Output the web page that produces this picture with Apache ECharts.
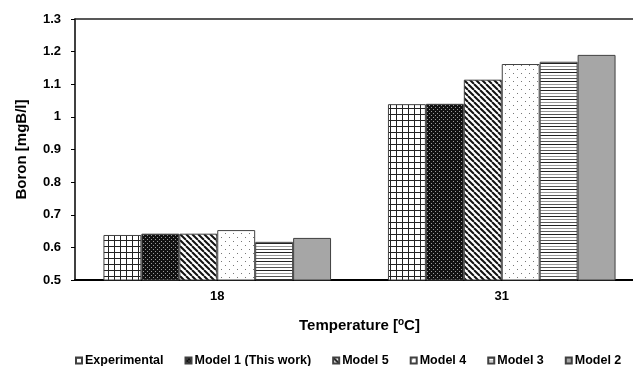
<!DOCTYPE html>
<html>
<head>
<meta charset="utf-8">
<script src="https://cdn.jsdelivr.net/npm/echarts@6/dist/echarts.min.js"></script>
<style>
  html, body { margin: 0; padding: 0; background: #fff; overflow: hidden; }
  /* the plot area runs a little past the right edge, as in the original */
  #chart { width: 645px; height: 366px; }
</style>
</head>
<body>
<div id="chart"></div>
<script>
// data
var temperatures = ['18', '31'];
var seriesNames = ['Experimental', 'Model 1 (This work)', 'Model 5', 'Model 4', 'Model 3', 'Model 2'];
var experimental = [0.638, 1.039];
var model1 = [0.642, 1.040];
var model5 = [0.642, 1.114];
var model4 = [0.653, 1.162];
var model3 = [0.617, 1.169];
var model2 = [0.629, 1.190];
var yTicks = { min: 0.5, max: 1.3, step: 0.1 };

// small canvas tiles for the Excel-like fill patterns
function tile (w, h, draw) {
  var c = document.createElement('canvas');
  c.width = w; c.height = h;
  var ctx = c.getContext('2d');
  draw(ctx, w, h);
  return { image: c, repeat: 'repeat' };
}

var fills = [
  // grid
  tile(6, 6, function (ctx) {
    ctx.fillStyle = '#fff'; ctx.fillRect(0, 0, 6, 6);
    ctx.fillStyle = '#222'; ctx.fillRect(0, 0, 6, 1); ctx.fillRect(0, 0, 1, 6);
  }),
  // dark dotted
  tile(4, 4, function (ctx) {
    ctx.fillStyle = '#111'; ctx.fillRect(0, 0, 4, 4);
    ctx.fillStyle = '#9a9a9a'; ctx.fillRect(1, 1, 1, 1); ctx.fillRect(3, 3, 1, 1);
  }),
  // diagonal stripes
  tile(6, 6, function (ctx) {
    ctx.fillStyle = '#fff'; ctx.fillRect(0, 0, 6, 6);
    ctx.strokeStyle = '#111'; ctx.lineWidth = 2;
    [-6, 0, 6].forEach(function (o) {
      ctx.beginPath(); ctx.moveTo(o, 0); ctx.lineTo(o + 6, 6); ctx.stroke();
    });
  }),
  // sparse dots
  tile(8, 8, function (ctx) {
    ctx.fillStyle = '#fff'; ctx.fillRect(0, 0, 8, 8);
    ctx.fillStyle = '#777'; ctx.fillRect(1, 1, 1, 1); ctx.fillRect(5, 5, 1, 1);
  }),
  // horizontal lines
  tile(2, 9, function (ctx) {
    ctx.fillStyle = '#fff'; ctx.fillRect(0, 0, 2, 9);
    ctx.fillStyle = '#222'; ctx.fillRect(0, 0, 2, 1);
    ctx.fillStyle = '#999'; ctx.fillRect(0, 3, 2, 1);
    ctx.fillStyle = '#555'; ctx.fillRect(0, 6, 2, 1);
  }),
  '#a6a6a6'
];

var values = [experimental, model1, model5, model4, model3, model2];
var font = 'Liberation Sans, Arial, sans-serif';

var chart = echarts.init(document.getElementById('chart'));

var series = seriesNames.map(function (name, i) {
  return {
    name: name,
    type: 'bar',
    barGap: 0,
    barCategoryGap: '20%',
    data: values[i],
    itemStyle: { color: fills[i], borderColor: '#404040', borderWidth: 1 }
  };
});

chart.setOption({
  animation: false,
  grid: { left: 75, right: 1, top: 19, bottom: 86, containLabel: false },
  legend: {
    data: seriesNames,
    left: 75,
    top: 354,
    padding: 0,
    itemWidth: 6,
    itemHeight: 6,
    itemGap: 21,
    icon: 'rect',
    textStyle: { fontFamily: font, fontWeight: 'bold', fontSize: 12.5, color: '#000', padding: [0, 0, 0, -2] }
  },
  xAxis: [{
    type: 'category',
    data: temperatures,
    axisLine: { lineStyle: { color: '#000', width: 2 } },
    axisTick: { show: false },
    axisLabel: { fontFamily: font, fontWeight: 'bold', fontSize: 13, color: '#000', margin: 10 },
    name: 'Temperature [{sup|o}C]',
    nameLocation: 'middle',
    nameGap: 37.5,
    nameTextStyle: {
      fontFamily: font, fontWeight: 'bold', fontSize: 15, color: '#000',
      rich: { sup: { fontFamily: font, fontWeight: 'bold', fontSize: 10, color: '#000', verticalAlign: 'top', padding: [0, 0, 6, 0] } }
    }
  }, {
    type: 'category',
    position: 'top',
    data: temperatures,
    axisLine: { lineStyle: { color: '#222', width: 1.5 } },
    axisTick: { show: false },
    axisLabel: { show: false }
  }],
  yAxis: {
    type: 'value',
    min: yTicks.min,
    max: yTicks.max,
    interval: yTicks.step,
    splitLine: { show: false },
    axisLine: { show: true, lineStyle: { color: '#000', width: 1.5 } },
    axisTick: { show: true, inside: false, length: 4, lineStyle: { color: '#000' } },
    axisLabel: {
      fontFamily: font, fontWeight: 'bold', fontSize: 13, color: '#000', margin: 14,
      formatter: function (v) { return String(Math.round(v * 10) / 10); }
    },
    name: 'Boron [mgB/l]',
    nameLocation: 'middle',
    nameGap: 46,
    nameTextStyle: { fontFamily: font, fontWeight: 'bold', fontSize: 15, color: '#000' }
  },
  series: series
});
</script>
</body>
</html>
